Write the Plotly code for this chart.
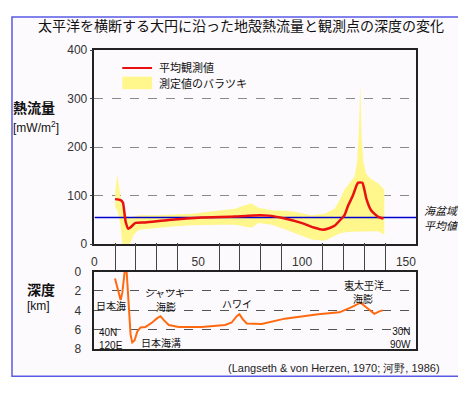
import plotly.graph_objects as go

# ---------------- data ----------------
# heat flow: mean observed value (mW/m^2) vs distance along great circle
MEAN_X = [9.9, 12.6, 13.7, 15.0, 16.3, 17.4, 19.8, 24.6, 35.7, 51.7, 67.7, 74.0, 83.7, 91.7,
          99.6, 106.0, 110.0, 113.0, 115.6, 118.8, 120.4, 122.0, 124.4, 126.3, 127.0, 129.0,
          130.0, 131.0, 133.2, 136.4, 139.2]
MEAN_Y = [93, 91, 86, 47, 32, 35, 44, 45, 50, 55, 57, 59, 59, 53,
          44, 34, 30, 33, 38, 52, 60, 78, 100, 122, 127, 127,
          112, 93, 70, 57, 53]

# spread of measured values (upper / lower envelope)
BAND_X = [10, 11, 12.5, 13.5, 15, 17, 19, 21.4, 30, 39, 47, 55, 62, 67.7, 72, 75.7, 79,
          85.3, 91, 96.5, 104.5, 110.8, 115.6, 118, 120.4, 123, 125.2, 126.5, 127.3, 128,
          128.7, 129.5, 130.8, 133, 136.4, 139.6]
BAND_HI = [110, 143, 100, 75, 60, 55, 57, 60, 60, 61, 63, 67, 70, 73, 80, 84, 75,
           70, 69, 67, 60, 63, 73, 90, 113, 128, 139, 170, 230, 330,
           220, 170, 146, 135, 126, 113]
BAND_LO = [75, 70, 40, 0, 0, 0, 20, 30, 34, 37, 39, 40, 40, 40, 37, 34, 44,
           40, 32, 24, 10, 7, 17, 22, 24, 26, 27, 27, 27, 27,
           27, 27, 27, 27, 27, 20]

BASIN_MEAN = 55  # ocean-basin average heat flow

# depth of observation points (km)
DEPTH_X = [9.9, 11.0, 12.1, 12.6, 13.4, 14.2, 14.7, 15.1, 15.5, 16.6, 17.4, 18.2, 19.3, 20.6,
           22.2, 24.6, 27.8, 30.2, 31.8, 33.4, 35.8, 40.6, 51.7, 62.9, 66.1, 68.5, 69.8,
           71.2, 73.3, 80.5, 91.7, 107.7, 118.0, 123.6, 128.1, 131.6, 134.8, 137.2, 138.8]
DEPTH_Y = [0.73, 1.7, 2.7, 2.94, 2.2, 0.2, -1.0, -1.0, 0.0, 3.9, 6.5, 7.3, 7.1, 6.2,
           5.75, 5.7, 5.25, 4.8, 4.6, 5.0, 5.5, 5.7, 5.7, 5.5, 5.25, 4.6, 4.4,
           4.85, 5.35, 5.4, 4.85, 4.4, 4.2, 3.7, 3.2, 3.8, 4.35, 4.1, 4.0]

X_RANGE = [0, 155]
X_LABEL_TICKS = [0, 50, 100, 150]
X_MINOR_TICKS = [10, 20, 30, 40, 60, 70, 80, 90, 110, 120, 130, 140]
HF_TICKS = [0, 100, 200, 300, 400]
DEPTH_TICKS = [0, 2, 4, 6, 8]

# ---------------- style ----------------
# the page body has an 8px margin, so the figure is offset by (8, 8)
OX, OY = 8, 8
W, H = 458, 381
BG = "#fdfafd"
YELLOW = "#fff68c"
RED = "#e81010"
ORANGE = "#ff6a10"
BLUE = "#0000cc"
JP = "Noto Sans CJK JP, Noto Sans CJK SC, sans-serif"
NUM = "Liberation Sans, Arial, sans-serif"


def px(x):
    return (x - OX) / W


def py(y):
    return 1 - (y - OY) / H


fig = go.Figure()

# yellow spread band
fig.add_trace(go.Scatter(
    x=BAND_X + BAND_X[::-1], y=BAND_HI + BAND_LO[::-1],
    fill="toself", fillcolor=YELLOW, mode="lines", line=dict(width=0, color=YELLOW),
    hoverinfo="skip", showlegend=False, xaxis="x", yaxis="y"))
# basin mean line
fig.add_trace(go.Scatter(
    x=X_RANGE, y=[BASIN_MEAN, BASIN_MEAN], mode="lines",
    line=dict(color=BLUE, width=1.5), showlegend=False, xaxis="x", yaxis="y"))
# mean observed
fig.add_trace(go.Scatter(
    x=MEAN_X, y=MEAN_Y, mode="lines",
    line=dict(color=RED, width=2.5, shape="spline", smoothing=0.5),
    showlegend=False, xaxis="x", yaxis="y"))
# depth
fig.add_trace(go.Scatter(
    x=DEPTH_X, y=DEPTH_Y, mode="lines", line=dict(color=ORANGE, width=2),
    showlegend=False, xaxis="x2", yaxis="y2"))

dom_x = [px(92), px(416)]
axis_common = dict(showline=True, linecolor="#222", linewidth=1.5, mirror=True,
                   zeroline=False, tickfont=dict(family=NUM, size=12, color="#333"))

fig.update_layout(
    width=W, height=H,
    margin=dict(l=0, r=0, t=0, b=0),
    paper_bgcolor="white", plot_bgcolor=BG,
    showlegend=False,
    xaxis=dict(domain=dom_x, range=X_RANGE, anchor="y", tickvals=X_LABEL_TICKS,
               ticks="", showgrid=False, ticklabelstandoff=6, **axis_common),
    yaxis=dict(domain=[py(246), py(44.5)], range=[0, 400], anchor="x", tickvals=HF_TICKS,
               ticks="outside", ticklen=3, tickcolor="#444", showgrid=True,
               gridcolor="#8a8a8a", griddash="dash", gridwidth=1, **axis_common),
    xaxis2=dict(domain=dom_x, range=X_RANGE, anchor="y2", side="top", tickvals=X_MINOR_TICKS,
                ticks="outside", ticklen=27, tickcolor="#444", tickwidth=1,
                showticklabels=False, showgrid=False, **axis_common),
    yaxis2=dict(domain=[py(355), py(274.3)], range=[8, 0], anchor="x2", tickvals=DEPTH_TICKS,
                ticks="", ticklabelstandoff=9, showgrid=True, gridcolor="#555",
                griddash="dash", gridwidth=1, **axis_common),
)

# outer frame
fig.add_shape(type="rect", xref="paper", yref="paper", x0=px(9), x1=px(459), y0=py(383), y1=py(10),
              line=dict(color="#5a5ae6", width=1.5), fillcolor=BG, layer="below")

# legend (drawn by hand)
fig.add_shape(type="line", xref="paper", yref="paper", x0=px(120), x1=px(150), y0=py(63), y1=py(63),
              line=dict(color=RED, width=2))
fig.add_shape(type="rect", xref="paper", yref="paper", x0=px(120), x1=px(150), y0=py(85), y1=py(72),
              line=dict(width=0), fillcolor=YELLOW)


def note(text, x, y, size=12, xanchor="center", xref="paper", yref="paper",
         family=JP, color="#111", align="center"):
    fig.add_annotation(text=text, x=x, y=y, xref=xref, yref=yref, showarrow=False,
                       xanchor=xanchor, yanchor="middle", align=align,
                       font=dict(family=family, size=size, color=color))


note("太平洋を横断する大円に沿った地殻熱流量と観測点の深度の変化", px(240), py(18), size=14)
note("平均観測値", px(155), py(62), size=11, xanchor="left")
note("測定値のバラツキ", px(155), py(79), size=11, xanchor="left")
note("<b>熱流量</b>", px(8), py(103), size=14, xanchor="left")
note("[mW/m<sup>2</sup>]", px(8), py(124), size=12, xanchor="left", family=NUM)
note("<i>海盆域</i>", px(441), py(210), size=11)
note("<i>平均値</i>", px(441), py(226), size=11)
note("<b>深度</b>", px(22), py(292), size=14, xanchor="left")
note("[km]", px(22), py(310), size=12, xanchor="left", family=NUM)


# labels in depth panel (data coordinates)
def dnote(text, x, y, xanchor="center", size=10, align="center", family=JP):
    note(text, x, y, size=size, xanchor=xanchor, xref="x2", yref="y2", align=align, family=family)


dnote("日本海", 8.1, 3.45)
dnote("40N<br>120E", 1.0, 6.9, xanchor="left", align="left", family=NUM)
dnote("日本海溝", 21.6, 7.35, xanchor="left")
dnote("シャツキ", 34.0, 2.2)
dnote("海膨", 34.5, 3.6)
dnote("ハワイ", 68.8, 3.3)
dnote("東太平洋", 129.7, 1.35)
dnote("海膨", 129.2, 2.75)
dnote("30N<br>90W", 153.2, 6.8, xanchor="right", align="right", family=NUM)

note("(Langseth &amp; von Herzen, 1970; 河野, 1986)", px(333), py(374), size=11, family=NUM,
     color="#222")

fig.write_html("out.html")
